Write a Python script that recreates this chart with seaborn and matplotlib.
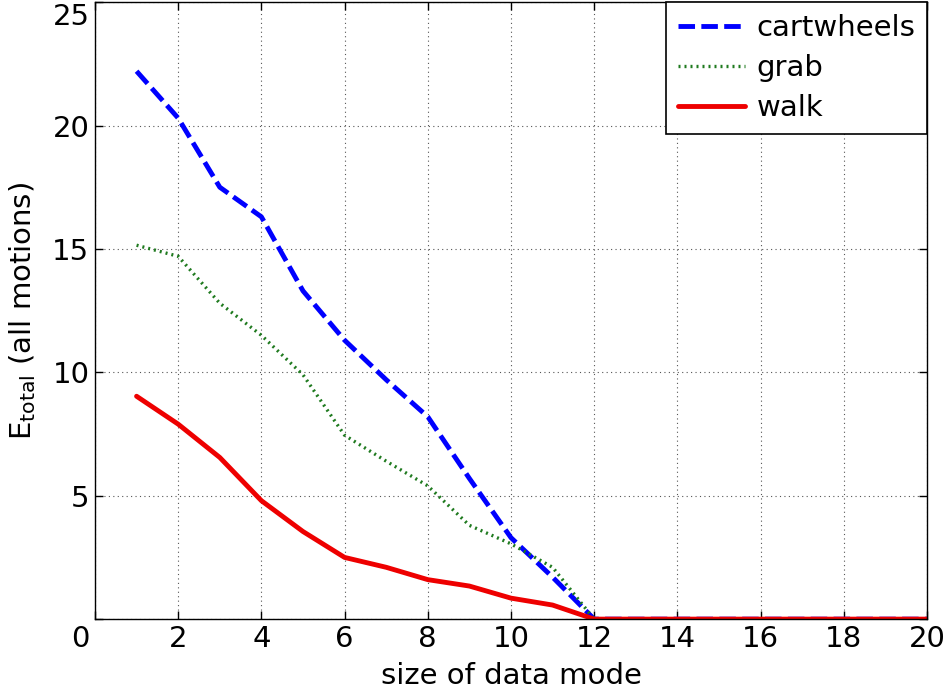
import matplotlib
matplotlib.use("Agg")
import matplotlib.pyplot as plt
import matplotlib.transforms as mtransforms
import seaborn as sns
import pandas as pd

x = list(range(1, 21))
cartwheels = [22.2, 20.3, 17.5, 16.3, 13.3, 11.3, 9.7, 8.2, 5.7, 3.3, 1.7, 0, 0, 0, 0, 0, 0, 0, 0, 0]
grab = [15.15, 14.7, 12.8, 11.5, 9.9, 7.45, 6.4, 5.4, 3.8, 3.05, 2.1, 0, 0, 0, 0, 0, 0, 0, 0, 0]
walk = [9.03, 7.9, 6.55, 4.8, 3.55, 2.5, 2.1, 1.6, 1.34, 0.85, 0.57, 0, 0, 0, 0, 0, 0, 0, 0, 0]
xticks = [0, 2, 4, 6, 8, 10, 12, 14, 16, 18, 20]
xticklabels = ["", "2", "4", "6", "8", "10", "12", "14", "16", "18", "20"]
yticks = [0, 5, 10, 15, 20, 25]
yticklabels = ["0", "5", "10", "15", "20", "25"]

sns.set_theme(style="white")
plt.rcParams['font.family'] = ['DejaVu Sans']
plt.rcParams['mathtext.fontset'] = 'dejavusans'
plt.rcParams['text.color'] = 'black'
plt.rcParams['axes.labelcolor'] = 'black'
plt.rcParams['xtick.color'] = 'black'
plt.rcParams['ytick.color'] = 'black'

fig = plt.figure(figsize=(9.44, 6.98), dpi=100)
ax = fig.add_axes([0.1006, 0.113, 0.8814, 0.884])

df = pd.DataFrame({"x": x, "cartwheels": cartwheels, "grab": grab, "walk": walk})
sns.lineplot(data=df, x="x", y="cartwheels", ax=ax, color="#0000ff", lw=3.5,
             linestyle=(0, (3.4, 1.3)), label="cartwheels")
sns.lineplot(data=df, x="x", y="grab", ax=ax, color="#1f7a1f", lw=2.4,
             linestyle=(0, (0.6, 1.2)), label="grab")
sns.lineplot(data=df, x="x", y="walk", ax=ax, color="#ee0000", lw=3.5,
             linestyle="-", label="walk")

ax.set_xlim(0, 20)
ax.set_ylim(0, 25)
ax.set_xticks(xticks)
ax.set_yticks(yticks)
ax.set_xticklabels(xticklabels, fontsize=21)
ax.set_yticklabels(yticklabels, fontsize=21)
ax.grid(True, linestyle=(0, (1, 3)), color="#555555", linewidth=0.8)
ax.tick_params(direction='in', length=6, width=1, color='black', top=True, right=True,
               bottom=True, left=True, labeltop=False, labelright=False, pad=4)
for s in ax.spines.values():
    s.set_color('black')
    s.set_linewidth(1.0)

# shift edge y tick labels like the reference (0 drops below axis, 25 drops inside figure)
ylabs = ax.get_yticklabels()
off0 = mtransforms.ScaledTranslation(0, -17 / 100, fig.dpi_scale_trans)
off25 = mtransforms.ScaledTranslation(0, -12 / 100, fig.dpi_scale_trans)
ylabs[0].set_transform(ylabs[0].get_transform() + off0)
ylabs[-1].set_transform(ylabs[-1].get_transform() + off25)

ax.set_xlabel("size of data mode", fontsize=21, labelpad=7)
ax.set_ylabel(r"E$_{\mathrm{total}}$ (all motions)", fontsize=21, labelpad=10)

leg = ax.legend(loc="upper right", fontsize=21, frameon=True, fancybox=False,
                handlelength=2.3, handletextpad=0.4, borderaxespad=0.0,
                labelspacing=0.42, borderpad=0.4)
leg.get_frame().set_edgecolor('black')
leg.get_frame().set_linewidth(1.2)
leg.get_frame().set_alpha(1)

fig.savefig("out.png", dpi=100)
